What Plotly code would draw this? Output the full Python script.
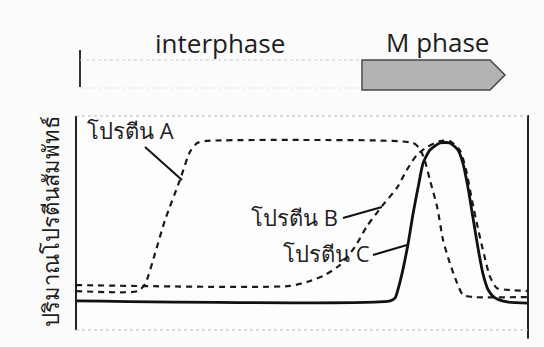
import plotly.graph_objects as go

# ---- data (time in % of cycle, relative protein amount in %) ----
time_a = [0, 13.7, 15.3, 17.5, 19.7, 23.0, 25.2, 26.8, 28.5, 49.6, 74.6, 76.1, 77.2, 78.3, 79.9, 81.2, 82.7, 84.3, 85.6, 87.8, 100]
amount_a = [18.2, 18.2, 21.5, 35.9, 51.4, 70.1, 83.2, 87.4, 88.3, 88.8, 87.4, 84.6, 79.0, 70.1, 57.5, 42.1, 31.3, 22.0, 16.4, 15.4, 15.4]

time_b = [0, 47.3, 51.8, 55.1, 58.4, 61.7, 64.4, 67.9, 71.0, 73.2, 75.4, 77.7, 80.5, 82.7, 84.9, 86.3, 87.6, 88.9, 90.3, 91.6, 93.1, 96.0, 100]
amount_b = [21.0, 20.6, 22.9, 25.7, 30.4, 38.8, 48.6, 58.4, 66.4, 74.8, 81.8, 85.5, 88.3, 88.3, 84.1, 74.8, 60.7, 47.7, 35.0, 24.8, 19.6, 18.7, 18.2]

time_c = [0, 69.5, 70.6, 71.2, 72.3, 73.5, 74.6, 75.7, 76.8, 78.3, 80.5, 82.7, 84.5, 85.6, 86.7, 87.8, 88.9, 90.0, 91.2, 92.7, 95.4, 100]
amount_c = [13.6, 13.6, 15.0, 18.7, 28.0, 40.7, 54.7, 66.8, 78.0, 84.1, 87.4, 87.4, 84.1, 78.0, 66.8, 52.8, 38.8, 26.6, 18.7, 15.0, 13.1, 12.6]

phase_labels = ["interphase", "M phase"]
protein_labels = ["โปรตีน A", "โปรตีน B", "โปรตีน C"]
y_title = "ปริมาณโปรตีนสัมพัทธ์"

fig = go.Figure()
fig.add_trace(go.Scatter(x=time_a, y=amount_a, mode="lines", name=protein_labels[0],
                         line=dict(color="#1a1a1a", width=2.2, dash="6px,5px", shape="spline", smoothing=0.6)))
fig.add_trace(go.Scatter(x=time_b, y=amount_b, mode="lines", name=protein_labels[1],
                         line=dict(color="#1a1a1a", width=2.2, dash="6px,5px", shape="spline", smoothing=0.6)))
fig.add_trace(go.Scatter(x=time_c, y=amount_c, mode="lines", name=protein_labels[2],
                         line=dict(color="#111111", width=2.8, shape="spline", smoothing=0.6)))

shapes = [
    # plot frame
    dict(type="line", xref="paper", yref="paper", x0=0, x1=0, y0=0, y1=1, line=dict(color="#222", width=2)),
    dict(type="line", xref="paper", yref="paper", x0=1, x1=1, y0=-0.04, y1=1.005, line=dict(color="#222", width=2)),
    dict(type="line", xref="paper", yref="paper", x0=0, x1=1, y0=1, y1=1, line=dict(color="#bbbbbb", width=1, dash="dot")),
    dict(type="line", xref="paper", yref="paper", x0=0, x1=1, y0=0, y1=0, line=dict(color="#bbbbbb", width=1, dash="dot")),
    # phase bar
    dict(type="line", xref="paper", yref="paper", x0=0.0089, x1=0.0089, y0=1.1355, y1=1.3084, line=dict(color="#333", width=2)),
    dict(type="line", xref="paper", yref="paper", x0=0.0089, x1=0.6327, y0=1.2617, y1=1.2617, line=dict(color="#cccccc", width=1, dash="dot")),
    dict(type="line", xref="paper", yref="paper", x0=0.0089, x1=0.6327, y0=1.1308, y1=1.1308, line=dict(color="#e2e2e2", width=1, dash="dot")),
    dict(type="path", xref="paper", yref="paper",
         path="M 0.6327 1.2617 L 0.9159 1.2617 L 0.9491 1.1916 L 0.9159 1.1215 L 0.6327 1.1215 Z",
         fillcolor="#b3b3b3", line=dict(color="#4a4a4a", width=1.5)),
    # label pointer lines
    dict(type="line", xref="paper", yref="paper", x0=0.1527, y0=0.8551, x1=0.2345, y1=0.7009, line=dict(color="#111", width=2)),
    dict(type="line", xref="paper", yref="paper", x0=0.5907, y0=0.5234, x1=0.6770, y1=0.5748, line=dict(color="#111", width=2)),
    dict(type="line", xref="paper", yref="paper", x0=0.6571, y0=0.3505, x1=0.7323, y1=0.3972, line=dict(color="#111", width=2)),
]

txt_font = dict(family="Open Sans, DejaVu Sans, sans-serif", color="#1e1e1e")
annotations = [
    dict(text=phase_labels[0], x=0.3186, y=1.341, xref="paper", yref="paper", showarrow=False,
         xanchor="center", yanchor="middle", font=dict(size=26, **txt_font)),
    dict(text=phase_labels[1], x=0.7987, y=1.3458, xref="paper", yref="paper", showarrow=False,
         xanchor="center", yanchor="middle", font=dict(size=26, **txt_font)),
    dict(text=protein_labels[0], x=0.1195, y=0.9346, xref="paper", yref="paper", showarrow=False,
         xanchor="center", yanchor="middle", font=dict(size=22, **txt_font)),
    dict(text=protein_labels[1], x=0.4845, y=0.5280, xref="paper", yref="paper", showarrow=False,
         xanchor="center", yanchor="middle", font=dict(size=22, **txt_font)),
    dict(text=protein_labels[2], x=0.5531, y=0.3598, xref="paper", yref="paper", showarrow=False,
         xanchor="center", yanchor="middle", font=dict(size=22, **txt_font)),
    dict(text=y_title, x=-0.0575, y=0.5047, xref="paper", yref="paper", showarrow=False, textangle=-90,
         xanchor="center", yanchor="middle", font=dict(size=22, **txt_font)),
]

fig.update_layout(
    width=544, height=347,
    margin=dict(l=76, r=16, t=116, b=17),
    paper_bgcolor="#fbfbfb", plot_bgcolor="#fdfdfd",
    showlegend=False,
    shapes=shapes, annotations=annotations,
    xaxis=dict(range=[0, 100], showticklabels=False, showgrid=False, zeroline=False, showline=False, ticks=""),
    yaxis=dict(range=[0, 100], showticklabels=False, showgrid=False, zeroline=False, showline=False, ticks=""),
)

fig.write_html("out.html", config={"displayModeBar": False},
               post_script="document.body.style.margin='0';document.body.style.overflow='hidden';")
